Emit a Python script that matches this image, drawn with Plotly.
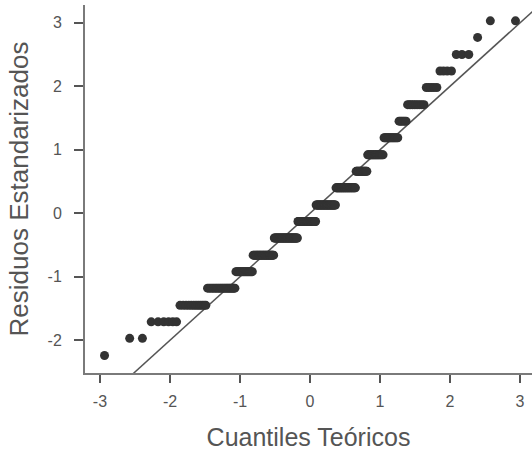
import plotly.graph_objects as go
from statistics import NormalDist

# Distinct standardized residual levels (sorted) and how many observations sit at each level
residual_levels = [-2.24, -1.97, -1.71, -1.45, -1.18, -0.92, -0.66, -0.39, -0.13, 0.13,
                   0.40, 0.66, 0.92, 1.19, 1.45, 1.71, 1.98, 2.24, 2.50, 2.77, 3.03]
level_counts = [1, 2, 6, 12, 22, 19, 29, 38, 31, 33,
                30, 15, 18, 13, 6, 10, 5, 4, 3, 1, 2]

x_ticks = [-3, -2, -1, 0, 1, 2, 3]
y_ticks = [-2, -1, 0, 1, 2, 3]
ref_line_x = [-3.6, 3.6]

# Sorted sample and theoretical normal quantiles (Q-Q plot)
sample = []
for v, c in zip(residual_levels, level_counts):
    sample += [v] * c
n = len(sample)
nd = NormalDist()
theo = [nd.inv_cdf((i + 0.5) / n) for i in range(n)]

font_family = "Arial, Liberation Sans, sans-serif"
txt = "#555555"

fig = go.Figure()
fig.add_trace(go.Scatter(x=ref_line_x, y=ref_line_x, mode="lines",
                         line=dict(color="#555555", width=1.5), hoverinfo="skip"))
fig.add_trace(go.Scatter(x=theo, y=sample, mode="markers",
                         marker=dict(color="#333333", size=9, line=dict(width=0))))

fig.update_layout(
    width=532, height=452,
    margin=dict(l=85, r=0, t=5, b=78.5),
    plot_bgcolor="white", paper_bgcolor="white",
    showlegend=False,
    font=dict(family=font_family, color=txt),
)
fig.update_xaxes(
    range=[-3.214, 3.171], tickvals=x_ticks, ticktext=[str(t) for t in x_ticks],
    showgrid=False, zeroline=False, automargin=False,
    showline=True, linecolor="#7a7a7a", linewidth=2,
    ticks="outside", ticklen=8, tickwidth=2, tickcolor="#555555",
    ticklabelstandoff=5,
    tickfont=dict(size=16, color=txt),
    title=dict(text="Cuantiles Teóricos", font=dict(size=25, color=txt), standoff=19),
)
fig.update_yaxes(
    range=[-2.516, 3.28], tickvals=y_ticks, ticktext=[str(t) for t in y_ticks],
    showgrid=False, zeroline=False, automargin=False,
    showline=True, linecolor="#7a7a7a", linewidth=2,
    ticks="outside", ticklen=9, tickwidth=2, tickcolor="#555555",
    ticklabelstandoff=9,
    tickfont=dict(size=16, color=txt),
    title=dict(text="Residuos Estandarizados", font=dict(size=26, color=txt), standoff=11),
)

fig.write_html("out.html")
